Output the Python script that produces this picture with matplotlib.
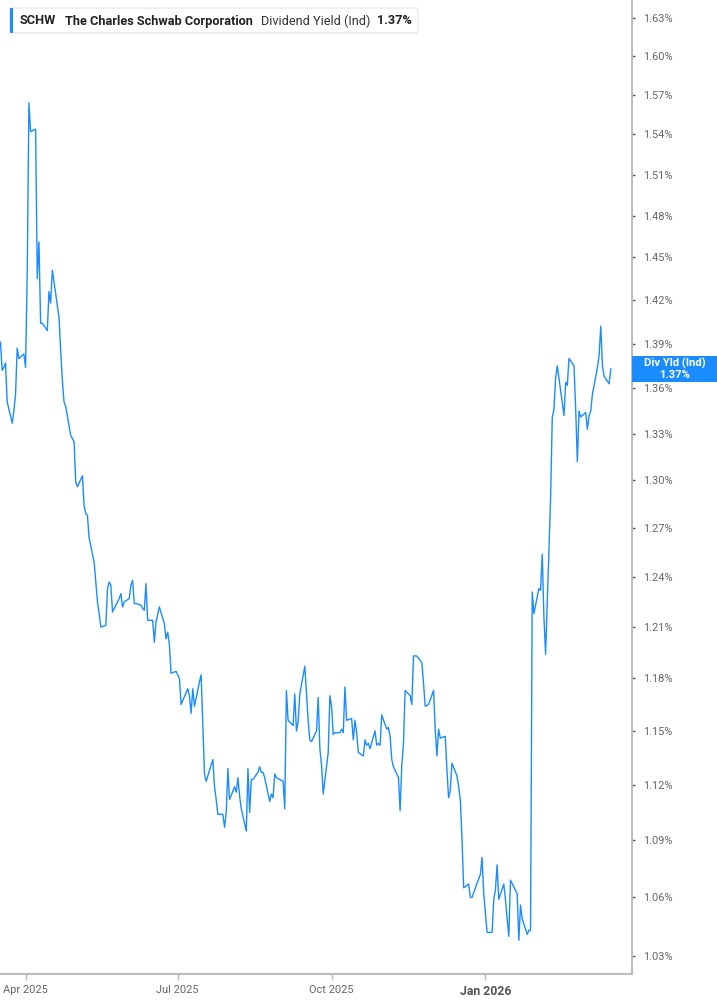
import matplotlib
matplotlib.use("Agg")
import matplotlib.pyplot as plt
import matplotlib.dates as mdates
from matplotlib.patches import FancyBboxPatch, Rectangle
from matplotlib.ticker import FixedLocator, NullLocator
import numpy as np
import pandas as pd

plt.rcParams["font.family"] = ["Roboto", "DejaVu Sans"]

# daily dividend yield (%), one value per trading day
start_date = "2025-03-14"
end_date = "2026-03-17"
market_holidays = ["2025-04-18", "2025-05-26", "2025-06-19", "2025-07-04",
                   "2025-09-01", "2025-11-27", "2025-12-25", "2026-01-01",
                   "2026-01-19", "2026-02-16"]

yield_values = [
    1.392, 1.391, 1.372, 1.374, 1.377, 1.351, 1.337, 1.345, 1.356, 1.387,
    1.380, 1.383, 1.374, 1.440, 1.564, 1.542, 1.544, 1.435, 1.461, 1.404,
    1.404, 1.399, 1.426, 1.418, 1.441, 1.408, 1.385, 1.365, 1.351, 1.348,
    1.329, 1.327, 1.325, 1.299, 1.296, 1.303, 1.284, 1.279, 1.278, 1.264,
    1.249, 1.237, 1.225, 1.218, 1.210, 1.211, 1.233, 1.237, 1.235, 1.219,
    1.227, 1.230, 1.222, 1.225, 1.227, 1.235, 1.238, 1.224, 1.224, 1.223,
    1.221, 1.220, 1.236, 1.214, 1.214, 1.201, 1.213, 1.222, 1.212, 1.203,
    1.207, 1.200, 1.183, 1.184, 1.182, 1.180, 1.165, 1.174, 1.170, 1.160,
    1.174, 1.164, 1.178, 1.182, 1.154, 1.126, 1.122, 1.131, 1.134, 1.119,
    1.112, 1.104, 1.104, 1.097, 1.105, 1.129, 1.112, 1.119, 1.116, 1.124,
    1.114, 1.107, 1.095, 1.129, 1.105, 1.123, 1.123, 1.127, 1.130, 1.127,
    1.127, 1.124, 1.111, 1.115, 1.113, 1.126, 1.124, 1.122, 1.107, 1.173,
    1.156, 1.153, 1.171, 1.150, 1.155, 1.171, 1.187, 1.171, 1.156, 1.145,
    1.144, 1.150, 1.169, 1.140, 1.131, 1.115, 1.138, 1.170, 1.164, 1.148,
    1.149, 1.149, 1.151, 1.149, 1.175, 1.156, 1.157, 1.145, 1.156, 1.149,
    1.138, 1.136, 1.145, 1.142, 1.143, 1.140, 1.150, 1.142, 1.143, 1.142,
    1.159, 1.151, 1.152, 1.147, 1.134, 1.130, 1.124, 1.106, 1.131, 1.143,
    1.173, 1.170, 1.165, 1.193, 1.193, 1.193, 1.189, 1.177, 1.164, 1.165,
    1.173, 1.151, 1.136, 1.151, 1.146, 1.147, 1.128, 1.113, 1.117, 1.132,
    1.125, 1.119, 1.112, 1.091, 1.065, 1.067, 1.060, 1.060, 1.065, 1.072,
    1.081, 1.062, 1.042, 1.042, 1.059, 1.064, 1.077, 1.059, 1.067, 1.059,
    1.049, 1.040, 1.069, 1.062, 1.038, 1.056, 1.049, 1.041, 1.043, 1.043,
    1.231, 1.218, 1.233, 1.232, 1.254, 1.216, 1.194, 1.289, 1.341, 1.346,
    1.367, 1.375, 1.342, 1.364, 1.362, 1.380, 1.375, 1.346, 1.312, 1.345,
    1.341, 1.344, 1.333, 1.342, 1.345, 1.356, 1.374, 1.382, 1.402, 1.375,
    1.368, 1.363, 1.373,
]

y_ticks = [1.03, 1.06, 1.09, 1.12, 1.15, 1.18, 1.21, 1.24, 1.27, 1.30,
           1.33, 1.36, 1.39, 1.42, 1.45, 1.48, 1.51, 1.54, 1.57, 1.60, 1.63]
x_tick_dates = ["2025-04-01", "2025-07-01", "2025-10-01", "2026-01-01"]
x_tick_labels = ["Apr 2025", "Jul 2025", "Oct 2025", "Jan 2026"]

ticker = "SCHW"
company = "The Charles Schwab Corporation"
metric = "Dividend Yield (Ind)"

days = pd.bdate_range(start_date, end_date)
days = days[~days.isin(pd.to_datetime(market_holidays))]
series = pd.Series(yield_values, index=days[:len(yield_values)])

blue = "#1a8cff"
axis_grey = "#bcbcbc"
label_grey = "#666666"

W, H = 717, 1005
fig = plt.figure(figsize=(W / 100, H / 100), dpi=100)
ax = fig.add_axes([0, 31 / H, 631.7 / W, 1 - 31 / H])

ax.plot(series.index, series.values, color=blue, linewidth=1.0)

ax.set_yscale("log")
ax.set_ylim(1.021, 1.6447)
ax.set_xlim(pd.Timestamp("2025-03-16 17:00"), pd.Timestamp("2026-03-29 12:00"))

ax.yaxis.set_major_locator(FixedLocator(y_ticks))
ax.yaxis.set_minor_locator(NullLocator())
ax.set_yticklabels([f"{t:.2f}%" for t in y_ticks])
ax.yaxis.tick_right()
ax.tick_params(axis="y", which="both", direction="out", length=2.5, width=1,
               color="#555555", labelcolor=label_grey, labelsize=7.9, pad=6)

ax.set_xticks([mdates.date2num(pd.Timestamp(d)) for d in x_tick_dates])
ax.set_xticklabels(x_tick_labels)
ax.tick_params(axis="x", direction="out", length=4, width=1, color=axis_grey,
               labelcolor=label_grey, labelsize=7.9, pad=4)
jan = ax.get_xticklabels()[-1]
jan.set_fontweight("bold")
jan.set_color("#555555")
jan.set_fontsize(8.8)

for side in ["left", "top"]:
    ax.spines[side].set_visible(False)
for side in ["right", "bottom"]:
    ax.spines[side].set_color(axis_grey)
    ax.spines[side].set_linewidth(1.5)

# header box
fig.patches.append(FancyBboxPatch((10 / W, 1 - 33 / H), 408 / W, 25 / H,
                                  boxstyle="round,pad=0,rounding_size=0.004",
                                  transform=fig.transFigure, facecolor="white",
                                  edgecolor="#e4e4e4", linewidth=0.8))
fig.patches.append(Rectangle((10 / W, 1 - 33 / H), 3 / W, 25 / H,
                             transform=fig.transFigure, facecolor=blue,
                             edgecolor="none"))
head_y = 1 - 21 / H
fig.text(20 / W, head_y, ticker, fontsize=9.2, fontweight="bold",
         color="#222222", va="center")
fig.text(65 / W, head_y, company, fontsize=9.2, fontweight="bold",
         color="#222222", va="center")
fig.text(261 / W, head_y, metric, fontsize=9.2, color="#333333", va="center")
fig.text(377 / W, head_y, f"{yield_values[-1]:.2f}%", fontsize=9.2,
         fontweight="bold", color="#222222", va="center")

# last value tag on the right axis
last_px = ax.transData.transform((mdates.date2num(series.index[-1]),
                                  yield_values[-1]))[1]
tag_y = last_px / H
fig.patches.append(Rectangle((632 / W, tag_y - 13 / H), 85 / W, 26 / H,
                             transform=fig.transFigure, facecolor=blue,
                             edgecolor="none"))
fig.text(674.5 / W, tag_y + 5.5 / H, "Div Yld (Ind)", fontsize=8.1,
         fontweight="bold", color="white", ha="center", va="center")
fig.text(674.5 / W, tag_y - 6 / H, f"{yield_values[-1]:.2f}%", fontsize=8.1,
         fontweight="bold", color="white", ha="center", va="center")

fig.savefig("out.png", dpi=100)
